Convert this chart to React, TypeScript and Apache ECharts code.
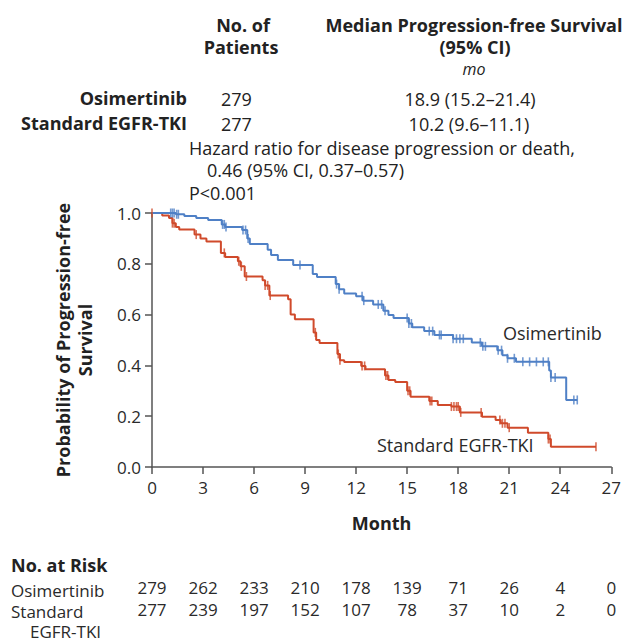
import React, { useEffect, useRef } from "react";
import * as echarts from "echarts";

// ---- data ----
const xTicks = [0, 3, 6, 9, 12, 15, 18, 21, 24, 27];
const osiRisk = [279, 262, 233, 210, 178, 139, 71, 26, 4, 0];
const stdRisk = [277, 239, 197, 152, 107, 78, 37, 10, 2, 0];

// Kaplan-Meier steps [month, probability]
const osiSteps: number[][] = [
  [0, 1.0], [1.4, 0.995], [1.9, 0.988], [2.6, 0.98], [3.3, 0.972], [4.1, 0.955], [4.3, 0.945],
  [5.3, 0.933], [5.6, 0.9], [5.75, 0.878], [6.8, 0.855], [7.0, 0.835], [7.4, 0.815], [8.3, 0.795],
  [9.45, 0.76], [9.7, 0.748], [10.8, 0.72], [11.0, 0.7], [11.3, 0.683], [12.0, 0.672], [12.4, 0.655],
  [13.0, 0.64], [13.6, 0.615], [13.9, 0.598], [14.2, 0.587], [15.1, 0.565], [15.3, 0.55],
  [16.0, 0.535], [16.6, 0.52], [17.7, 0.505], [18.8, 0.49], [19.4, 0.475], [20.3, 0.46],
  [20.6, 0.44], [20.9, 0.428], [21.4, 0.414], [23.35, 0.38], [23.45, 0.352], [24.35, 0.264],
  [25.0, 0.264],
];
const stdSteps: number[][] = [
  [0, 1.0], [0.6, 0.99], [1.0, 0.98], [1.2, 0.96], [1.4, 0.945], [1.6, 0.935], [2.5, 0.915],
  [2.85, 0.9], [3.2, 0.888], [4.05, 0.843], [4.3, 0.827], [5.05, 0.81], [5.2, 0.79], [5.45, 0.75],
  [6.5, 0.735], [6.65, 0.715], [6.9, 0.675], [8.0, 0.66], [8.15, 0.6], [8.4, 0.582], [9.5, 0.53],
  [9.65, 0.5], [9.85, 0.488], [10.9, 0.445], [11.05, 0.42], [11.3, 0.413], [12.3, 0.398],
  [12.55, 0.385], [13.7, 0.36], [13.9, 0.343], [14.3, 0.335], [15.0, 0.3], [15.2, 0.277],
  [16.3, 0.26], [16.8, 0.244], [17.6, 0.238], [18.1, 0.215], [19.4, 0.198], [20.2, 0.185],
  [20.5, 0.172], [20.9, 0.155], [22.1, 0.135], [23.3, 0.11], [23.45, 0.08], [26.1, 0.08],
];
const osiCensor = [
  1.1, 1.2, 1.3, 1.45, 1.55, 4.15, 4.25, 4.35, 5.35, 5.5, 5.65, 8.7, 10.85, 11.0, 12.35, 12.45,
  13.3, 13.5, 13.7, 15.0, 15.1, 15.25, 16.3, 16.5, 16.9, 17.0, 17.7, 17.9, 18.1, 18.3, 19.3, 19.45,
  19.6, 20.35, 20.55, 20.9, 21.3, 21.8, 22.2, 22.6, 23.0, 23.3, 23.45, 23.7, 24.8, 25.0,
];
const stdCensor = [
  0, 1.2, 1.3, 2.6, 4.25, 5.1, 5.25, 5.55, 6.65, 6.8, 6.95, 9.6, 10.95, 11.05, 12.35, 12.5, 13.75,
  13.85, 15.05, 15.15, 16.35, 16.45, 17.6, 17.75, 17.9, 18.0, 18.15, 19.35, 20.45, 20.6, 20.75,
  21.0, 23.3, 23.4, 26.1,
];

const BLUE = "#4f80c6";
const RED = "#d04a2b";
const FONT = "'Open Sans', 'Noto Sans', sans-serif";

function survivalAt(steps: number[][], t: number): number {
  let s = steps[0][1];
  for (const [m, v] of steps) {
    if (m <= t) s = v;
    else break;
  }
  return s;
}

function txt(text: string, x: number, y: number, opts: any = {}) {
  const fontSize = opts.fontSize || 18;
  return {
    type: "text",
    x,
    y,
    silent: true,
    style: {
      text,
      fill: opts.fill || "#222",
      fontFamily: FONT,
      fontSize,
      lineHeight: opts.lineHeight || fontSize + 2,
      fontWeight: opts.bold ? "bold" : "normal",
      fontStyle: opts.italic ? "italic" : "normal",
      align: opts.align || "left",
      verticalAlign: "middle",
    },
  };
}

export default function App() {
  const ref = useRef<HTMLDivElement>(null);
  useEffect(() => {
    if (!ref.current) return;
    const chart = echarts.init(ref.current, undefined, { renderer: "svg" });
    const riskAxis = (vals: number[], offset: number) => ({
      type: "value",
      gridIndex: 0,
      position: "bottom",
      offset,
      min: 0,
      max: 27,
      interval: 3,
      axisLine: { show: false },
      axisTick: { show: false },
      splitLine: { show: false },
      axisLabel: {
        margin: 0,
        fontSize: 17,
        fontFamily: FONT,
        color: "#2a2a2a",
        showMinLabel: true,
        showMaxLabel: true,
        formatter: (v: number) => String(vals[xTicks.indexOf(Math.round(v))]),
      },
    });
    chart.setOption({
      animation: false,
      grid: { left: 152, right: 12, top: 213, bottom: 174 },
      xAxis: [
        {
          type: "value",
          min: 0,
          max: 27,
          interval: 3,
          name: "Month",
          nameLocation: "middle",
          nameGap: 47,
          nameTextStyle: { fontFamily: FONT, fontSize: 18, fontWeight: "bold", color: "#222" },
          axisLine: { show: true, lineStyle: { color: "#555", width: 1.5 } },
          axisTick: { show: true, length: 7, lineStyle: { color: "#555", width: 1.5 } },
          splitLine: { show: false },
          axisLabel: {
            margin: 12,
            fontSize: 17,
            fontFamily: FONT,
            color: "#2a2a2a",
            showMinLabel: true,
            showMaxLabel: true,
          },
        },
        riskAxis(osiRisk, 112),
        riskAxis(stdRisk, 134),
      ],
      yAxis: {
        type: "value",
        min: 0,
        max: 1,
        interval: 0.2,
        name: "Probability of Progression-free\nSurvival",
        nameLocation: "middle",
        nameGap: 56,
        nameRotate: 90,
        nameTextStyle: {
          fontFamily: FONT,
          fontSize: 18,
          fontWeight: "bold",
          color: "#222",
          lineHeight: 22,
          align: "center",
        },
        axisLine: { show: true, lineStyle: { color: "#555", width: 1.5 } },
        axisTick: { show: true, length: 7, lineStyle: { color: "#555", width: 1.5 } },
        splitLine: { show: false },
        axisLabel: {
          margin: 11,
          fontSize: 17,
          fontFamily: FONT,
          color: "#2a2a2a",
          formatter: (v: number) => v.toFixed(1),
        },
      },
      series: [
        {
          type: "line",
          name: "Osimertinib",
          step: "end",
          data: osiSteps,
          showSymbol: false,
          lineStyle: { color: BLUE, width: 2 },
          z: 3,
        },
        {
          type: "line",
          name: "Standard EGFR-TKI",
          step: "end",
          data: stdSteps,
          showSymbol: false,
          lineStyle: { color: RED, width: 2 },
          z: 2,
        },
        {
          type: "scatter",
          data: osiCensor.map((t) => [t, survivalAt(osiSteps, t)]),
          symbol: "rect",
          symbolSize: [1.6, 9],
          itemStyle: { color: BLUE },
          z: 4,
        },
        {
          type: "scatter",
          data: stdCensor.map((t) => [t, survivalAt(stdSteps, t)]),
          symbol: "rect",
          symbolSize: [1.6, 9],
          itemStyle: { color: RED },
          z: 4,
        },
      ],
      graphic: [
        txt("No. of", 243, 25, { bold: true, align: "center" }),
        txt("Patients", 241, 47, { bold: true, align: "center" }),
        txt("Median Progression-free Survival", 474, 25, { bold: true, align: "center" }),
        txt("(95% CI)", 475, 47, { bold: true, align: "center" }),
        txt("mo", 474, 69, { italic: true, align: "center", fontSize: 16 }),
        txt("Osimertinib", 187, 98, { bold: true, align: "right" }),
        txt("Standard EGFR-TKI", 187, 123, { bold: true, align: "right" }),
        txt("279", 221, 99),
        txt("277", 221, 124),
        txt("18.9 (15.2\u201321.4)", 470, 99, { align: "center" }),
        txt("10.2 (9.6\u201311.1)", 469, 124, { align: "center" }),
        txt("Hazard ratio for disease progression or death,", 189, 148),
        txt("0.46 (95% CI, 0.37\u20130.57)", 207, 170),
        txt("P<0.001", 189, 193),
        txt("Osimertinib", 503, 333, { fill: "#2a2a2a" }),
        txt("Standard EGFR-TKI", 377, 445, { fill: "#2a2a2a" }),
        txt("No. at Risk", 11, 565, { bold: true }),
        txt("Osimertinib", 11, 590, { fontSize: 17, fill: "#2a2a2a" }),
        txt("Standard", 11, 611, { fontSize: 17, fill: "#2a2a2a", lineHeight: 18 }),
        txt("EGFR-TKI", 30, 631, { fontSize: 17, fill: "#2a2a2a", lineHeight: 18 }),
      ],
    });
    return () => chart.dispose();
  }, []);
  return (
    <div
      ref={ref}
      style={{ position: "fixed", left: 0, top: 0, width: 624, height: 641, background: "#fff" }}
    />
  );
}
